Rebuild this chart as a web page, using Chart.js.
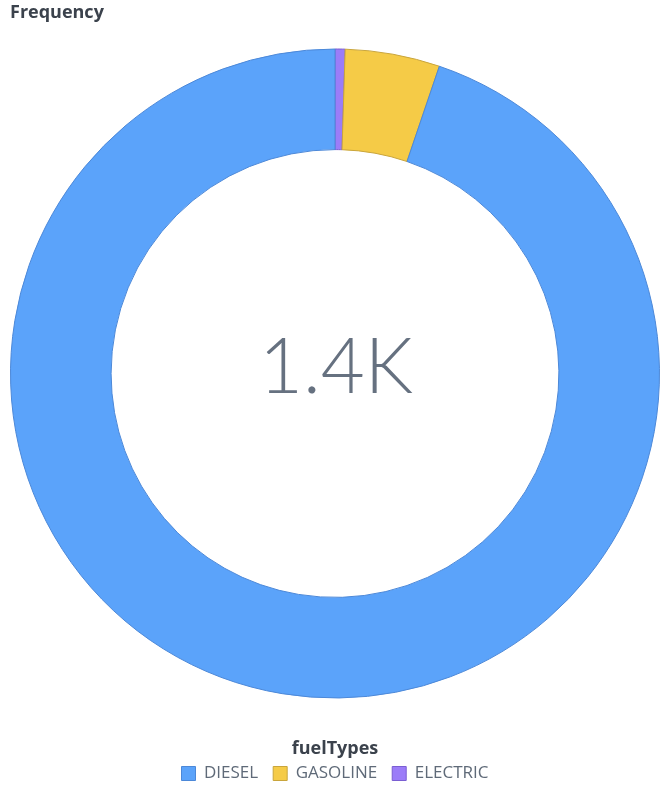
<!DOCTYPE html>
<html>
<head>
<meta charset="utf-8">
<script src="https://cdn.jsdelivr.net/npm/chart.js@4/dist/chart.umd.min.js"></script>
<style>
  html, body { margin: 0; padding: 0; background: #fff; }
  #wrap { width: 666px; height: 785px; position: relative; }
</style>
</head>
<body>
<div id="wrap"><canvas id="fuelChart"></canvas></div>
<script>
// fuel type frequencies (legend order)
const categories = ['DIESEL', 'GASOLINE', 'ELECTRIC'];
const counts = [1328, 66, 7];
const fillColors = ['#5BA3FA', '#F5CB47', '#9B7CF8'];
const edgeColors = ['#4C88D8', '#C9A53C', '#7A5ED2'];

// the reference runs slices counter-clockwise from 12 o'clock,
// so feed them reversed and flip the legend back
const drawOrder = [2, 1, 0];

const total = counts.reduce((a, b) => a + b, 0);

const centerLabel = {
    id: 'centerLabel',
    afterDraw(chart) {
        const arc = chart.getDatasetMeta(0).data[0];
        if (!arc) return;
        const ctx = chart.ctx;
        ctx.save();
        ctx.font = '300 76px Lato, sans-serif';
        ctx.fillStyle = '#667180';
        ctx.textAlign = 'center';
        ctx.textBaseline = 'middle';
        ctx.fillText((total / 1000).toFixed(1) + 'K', arc.x + 1, arc.y - 5);
        ctx.restore();
    }
};

new Chart(document.getElementById('fuelChart'), {
    type: 'doughnut',
    data: {
        labels: drawOrder.map(i => categories[i]),
        datasets: [{
            data: drawOrder.map(i => counts[i]),
            backgroundColor: drawOrder.map(i => fillColors[i]),
            borderColor: drawOrder.map(i => edgeColors[i]),
            borderWidth: 1
        }]
    },
    options: {
        responsive: true,
        maintainAspectRatio: false,
        animation: false,
        cutout: '69%',
        // negative bottom pad lets the legend sit close to the edge
        layout: { padding: { left: 10, right: 6, top: 0, bottom: -7 } },
        plugins: {
            title: {
                display: true,
                text: 'Frequency',
                align: 'start',
                color: '#3B424C',
                font: { family: '"Open Sans", sans-serif', size: 18, weight: 'bold' },
                padding: { top: 2, bottom: 22 }
            },
            legend: {
                position: 'bottom',
                reverse: true,
                title: {
                    display: true,
                    text: 'fuelTypes',
                    color: '#3B424C',
                    font: { family: '"Open Sans", sans-serif', size: 18, weight: 'bold' },
                    padding: { top: 38, bottom: -11 }
                },
                labels: {
                    color: '#5F6A78',
                    font: { family: '"Open Sans", sans-serif', size: 17 },
                    boxWidth: 14,
                    boxHeight: 14,
                    padding: 15
                }
            },
            tooltip: { enabled: false }
        }
    },
    plugins: [centerLabel]
});
</script>
</body>
</html>
